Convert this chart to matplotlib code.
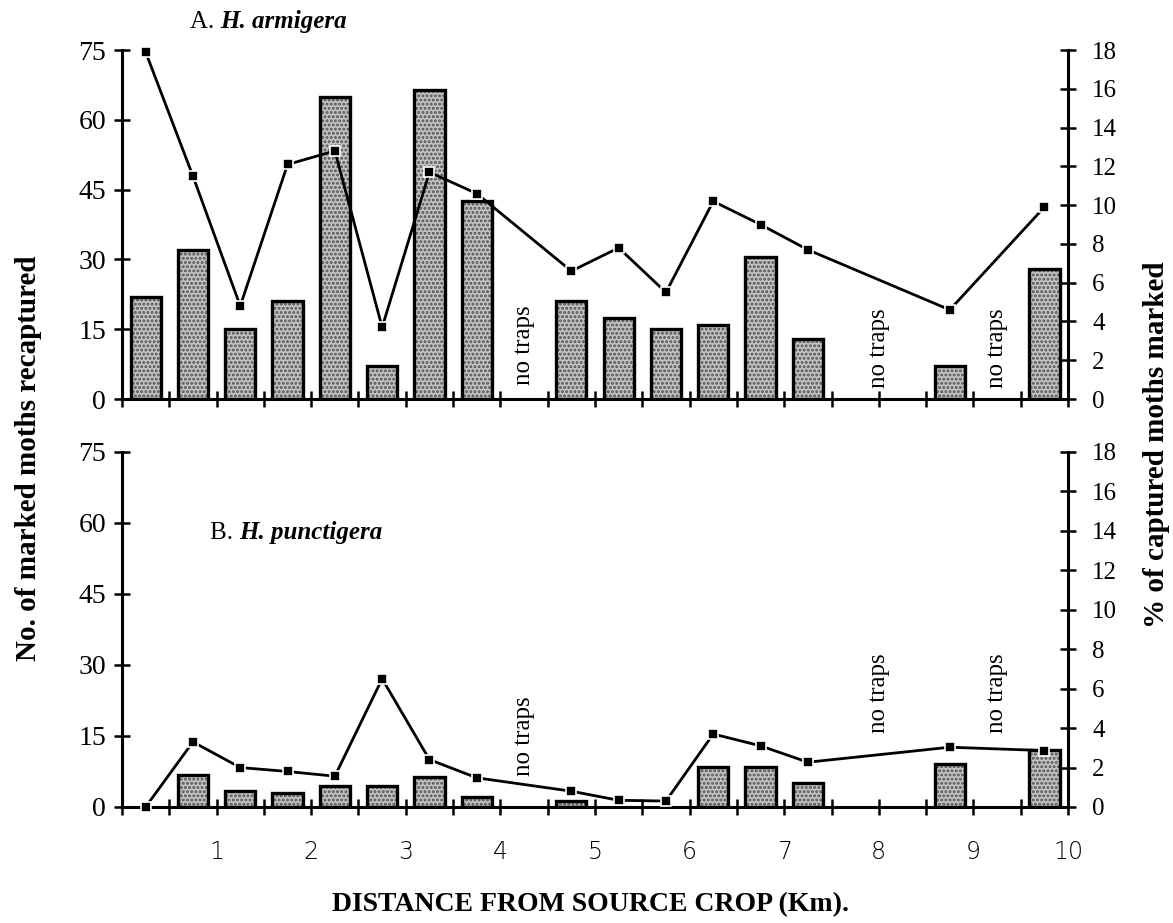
import numpy as np
import matplotlib
matplotlib.use("Agg")
import matplotlib.pyplot as plt

nan = np.nan

# half-km trap positions (km from source crop)
distance = [0.25, 0.75, 1.25, 1.75, 2.25, 2.75, 3.25, 3.75, 4.25, 4.75,
            5.25, 5.75, 6.25, 6.75, 7.25, 7.75, 8.25, 8.75, 9.25, 9.75]

# A. H. armigera
armigera_moths = [22, 32, 15, 21, 65, 7, 66.5, 42.5, nan, 21,
                  17.5, 15, 16, 30.5, 13, nan, nan, 7, nan, 28]
armigera_pct = [17.9, 11.5, 4.8, 12.1, 12.8, 3.7, 11.7, 10.6, nan, 6.6,
                7.8, 5.5, 10.2, 9.0, 7.7, nan, nan, 4.6, nan, 9.9]

# B. H. punctigera
punctigera_moths = [nan, 6.7, 3.3, 3.0, 4.5, 4.5, 6.4, 2.1, nan, 1.3,
                    nan, nan, 8.4, 8.4, 5.1, nan, nan, 9.0, nan, 12]
punctigera_pct = [0.0, 3.3, 2.0, 1.8, 1.56, 6.5, 2.4, 1.48, nan, 0.8,
                  0.34, 0.3, 3.7, 3.1, 2.27, nan, nan, 3.03, nan, 2.86]

# where the "no traps" notes sit (km, left-axis units)
no_traps_x = [4.25, 8.0, 9.25]
no_traps_y_a = [11.5, 11, 11]
no_traps_y_b = [15, 24, 24]

left_ticks = [0, 15, 30, 45, 60, 75]
right_ticks = [0, 2, 4, 6, 8, 10, 12, 14, 16, 18]
x_labels = ['1', '2', '3', '4', '5', '6', '7', '8', '9', '10']

plt.rcParams['font.family'] = ['Liberation Serif', 'DejaVu Serif']
plt.rcParams['hatch.linewidth'] = 1.4


def draw_panel(ax, moths, pct, note_y, show_xlabels):
    x = np.array(distance)
    m = np.array(moths, dtype=float)
    p = np.array(pct, dtype=float)

    ax.set_xlim(0, 10)
    ax.set_ylim(0, 75)
    axr = ax.twinx()
    axr.set_ylim(0, 18)

    ok = ~np.isnan(m)
    # stippled fill, then a black outline on top
    ax.bar(x[ok], m[ok], width=0.32, color='#c2c2c2', edgecolor='#505050',
           hatch='....', linewidth=0, zorder=2)
    ax.bar(x[ok], m[ok], width=0.32, fill=False, edgecolor='black',
           linewidth=2.4, zorder=3)

    okp = ~np.isnan(p)
    axr.plot(x[okp], p[okp], color='black', lw=2, marker='s', ms=7,
             mfc='black', mec='white', mew=1.2, zorder=4, clip_on=False)

    for nx, ny in zip(no_traps_x, note_y):
        ax.text(nx, ny, 'no traps', rotation=90, ha='center', va='center',
                fontsize=18, zorder=5)

    for a in (ax, axr):
        a.spines['top'].set_visible(False)
        a.patch.set_visible(False)
    ax.spines['right'].set_visible(False)
    axr.spines['left'].set_visible(False)
    axr.spines['bottom'].set_visible(False)
    for s in ('left', 'bottom'):
        ax.spines[s].set_linewidth(2.2)
    axr.spines['right'].set_linewidth(2.2)

    ax.set_yticks(left_ticks)
    ax.set_yticklabels([str(t) for t in left_ticks], fontsize=20)
    axr.set_yticks(right_ticks)
    axr.set_yticklabels([str(t) for t in right_ticks], fontsize=18)
    ax.tick_params(axis='y', direction='inout', length=11, width=1.8, pad=6)
    axr.tick_params(axis='y', direction='inout', length=11, width=1.8, pad=12)

    ticks = np.arange(0, 10.01, 0.5)
    ax.set_xticks(ticks)
    if show_xlabels:
        labs = []
        for t in ticks:
            if t > 0 and t == int(t):
                labs.append(x_labels[int(t) - 1])
            else:
                labs.append('')
        ax.set_xticklabels(labs, fontsize=17, family=['DejaVu Sans'],
                           fontweight='light')
    else:
        ax.set_xticklabels([])
    ax.tick_params(axis='x', direction='inout', length=11, width=1.8, pad=18)
    return axr


fig = plt.figure(figsize=(11.73, 9.23), dpi=100)
ax_a = fig.add_axes([0.104, 0.5677, 0.8065, 0.378])
ax_b = fig.add_axes([0.104, 0.1257, 0.8065, 0.3846])

draw_panel(ax_a, armigera_moths, armigera_pct, no_traps_y_a, False)
draw_panel(ax_b, punctigera_moths, punctigera_pct, no_traps_y_b, True)

# panel titles: "A." plain, species name bold italic
ta = fig.text(0.162, 0.976, 'A. ', fontsize=18, va='center')
ax_a.annotate('H. armigera', xy=(1, 0), xycoords=ta, va='bottom',
              fontsize=18, fontweight='bold', style='italic')
tb = fig.text(0.179, 0.4225, 'B. ', fontsize=18, va='center')
ax_b.annotate('H. punctigera', xy=(1, 0), xycoords=tb, va='bottom',
              fontsize=18, fontweight='bold', style='italic')

fig.text(0.024, 0.503, 'No. of marked moths recaptured', rotation=90,
         ha='center', va='center', fontsize=21, fontweight='bold')
fig.text(0.986, 0.518, '% of captured moths marked', rotation=90,
         ha='center', va='center', fontsize=21, fontweight='bold')
fig.text(0.503, 0.0195, 'DISTANCE FROM SOURCE CROP (Km).',
         ha='center', va='center', fontsize=20, fontweight='bold')

fig.savefig('out.png', dpi=100)
